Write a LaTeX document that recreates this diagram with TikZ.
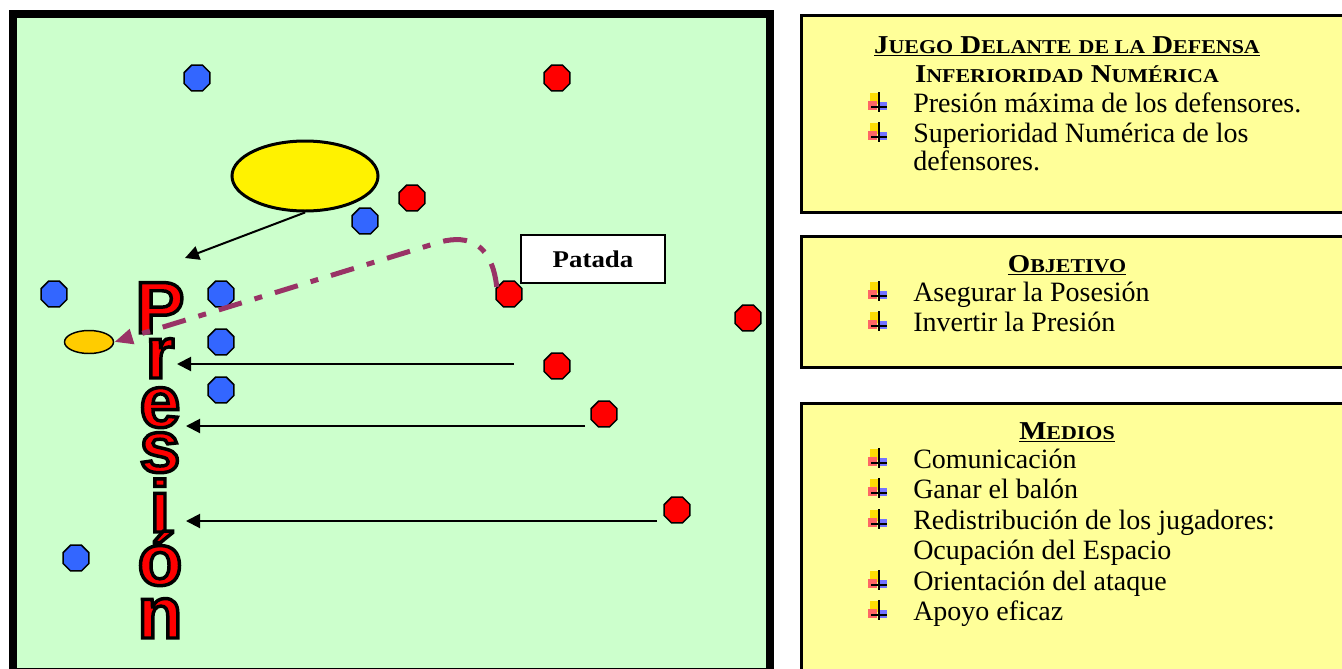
\documentclass[tikz,border=0pt]{standalone}
\usepackage{fontspec}
\setmainfont{Liberation Serif}
\newfontfamily\headfont{Liberation Serif}[FakeStretch=1.12]
\newfontfamily\letterfont{Liberation Sans}
\usetikzlibrary{shapes.geometric,arrows.meta}

\definecolor{pitchgreen}{HTML}{CCFFCC}
\definecolor{notepad}{HTML}{FFFF99}
\definecolor{teamblue}{HTML}{3366FF}
\definecolor{kickplum}{HTML}{993366}
\definecolor{ballorange}{HTML}{FFCC00}

% small caps by hand
\newcommand{\smcap}[2]{#1{\fontsize{14.7}{17}\selectfont#2}}
% red letter with a black rim (fill and stroke text)
\newcommand{\rimmed}[1]{\special{pdf:literal direct 2 Tr 2.6 w 0 0 0 RG}#1\special{pdf:literal direct 0 Tr}}

\begin{document}
\begin{tikzpicture}[x=0.75pt,y=-0.75pt,
		field/.style={fill=pitchgreen,draw=black,line width=6pt},
		notebox/.style={fill=notepad,draw=black,line width=2.25pt},
		attacker/.style={regular polygon,regular polygon sides=8,minimum size=21pt,inner sep=0pt,fill=red,draw=black,line width=1.1pt},
		defender/.style={attacker,fill=teamblue},
		letter/.style={font=\letterfont\bfseries\fontsize{55}{55}\selectfont,text=red,inner sep=0pt,anchor=base},
		heading/.style={font=\headfont\bfseries\fontsize{19.3}{22}\selectfont,inner sep=0pt,anchor=base},
		item/.style={font=\fontsize{21}{25}\selectfont,inner sep=0pt,anchor=base west},
		pressline/.style={draw=black,line width=1.5pt,-{Triangle[length=10.5pt,width=10.5pt]}},
		kickline/.style={draw=kickplum,line width=3.75pt,dash pattern=on 18pt off 10pt on 6pt off 10pt,-{Triangle[length=14pt,width=11pt]}},
		pics/plusmark/.style={code={
			\fill[yellow!80!orange] (2,-19) rectangle (11,-8);
			\fill[red!60] (0,-11) rectangle (9,-2);
			\fill[blue!55] (10,-10) rectangle (19,-2);
			\draw[line width=1.5pt] (11,-20) -- (11,0);
			\draw[line width=1.5pt] (3,-5) -- (19,-5);
		}}]
		\useasboundingbox (0,0) rectangle (1342,668);

		% pitch and note boxes
		\draw[field] (12.5,14) rectangle (770,672);
		\draw[notebox] (801.5,15) rectangle (1350,212);
		\draw[notebox] (801.5,236) rectangle (1350,367);
		\draw[notebox] (801.5,403) rectangle (1350,680);

		% Presion down the left side
		\node[letter] (lP) at (160,333) {\rimmed{P}};
		\node[letter] (lr) at (160,378) {\rimmed{r}};
		\node[letter] (le) at (160,427) {\rimmed{e}};
		\node[letter] (ls) at (160,472) {\rimmed{s}};
		\node[letter] (li) at (160,532) {\rimmed{i}};
		\node[letter] (lo) at (160,585) {\rimmed{ó}};
		\node[letter] (ln) at (160,638) {\rimmed{n}};

		\node[ellipse,fill=yellow,draw=black,line width=2.25pt,minimum width=109.5pt,minimum height=52.5pt,inner sep=0pt] (zone) at (305,176) {};
		\node[ellipse,fill=ballorange,draw=black,line width=1.1pt,minimum width=36.75pt,minimum height=17.25pt,inner sep=0pt] (ball) at (89,342) {};
		\node[draw=black,fill=white,line width=1.5pt,minimum width=108pt,minimum height=36pt,inner sep=0pt,font=\headfont\bfseries\fontsize{18}{20}\selectfont] (patada) at (593,259) {Patada};

		% pressing arrows
		\coordinate (aimP) at (185,258);
		\coordinate (from1) at (514,364);
		\coordinate (to1) at (177,364);
		\coordinate (from2) at (585,426);
		\coordinate (to2) at (186,426);
		\coordinate (from3) at (657,521);
		\coordinate (to3) at (186,521);
		\draw[pressline] (zone.south) -- (aimP);
		\draw[pressline] (from1) -- (to1);
		\draw[pressline] (from2) -- (to2);
		\draw[pressline] (from3) -- (to3);

		% players
		\node[defender] (d1) at (197,78) {};
		\node[defender] (d2) at (365,221) {};
		\node[defender] (d3) at (54,294) {};
		\node[defender] (d4) at (221,294) {};
		\node[defender] (d5) at (221,342) {};
		\node[defender] (d6) at (221,390) {};
		\node[defender] (d7) at (76,558) {};
		\node[attacker] (a1) at (557,78) {};
		\node[attacker] (a2) at (412,198) {};
		\node[attacker] (a3) at (509,294) {};
		\node[attacker] (a4) at (748,318) {};
		\node[attacker] (a5) at (557,366) {};
		\node[attacker] (a6) at (604,414) {};
		\node[attacker] (a7) at (677,510) {};

		% the kick
		\draw[kickline] (a3.150) .. controls (492,245) and (470,234) .. (440,242) -- (ball.east);

		% box 1
		\node[heading] (h1) at (1067,53) {\underline{\smcap{J}{UEGO} \smcap{D}{ELANTE} \smcap{}{DE LA} \smcap{D}{EFENSA}}};
		\node[heading] (h1b) at (1067,82) {\smcap{I}{NFERIORIDAD} \smcap{N}{UMÉRICA}};
		\pic at (868,112) {plusmark};
		\node[item] (b11) at (913,112) {Presión máxima de los defensores.};
		\pic at (868,142) {plusmark};
		\node[item] (b12) at (913,142) {Superioridad Numérica de los};
		\node[item] (b12b) at (913,170) {defensores.};

		% box 2
		\node[heading] (h2) at (1067,272) {\underline{\smcap{O}{BJETIVO}}};
		\pic at (868,301) {plusmark};
		\node[item] (b21) at (913,301) {Asegurar la Posesión};
		\pic at (868,331) {plusmark};
		\node[item] (b22) at (913,331) {Invertir la Presión};

		% box 3
		\node[heading] (h3) at (1067,439) {\underline{\smcap{M}{EDIOS}}};
		\pic at (868,468) {plusmark};
		\node[item] (b31) at (913,468) {Comunicación};
		\pic at (868,498) {plusmark};
		\node[item] (b32) at (913,498) {Ganar el balón};
		\pic at (868,529) {plusmark};
		\node[item] (b33) at (913,529) {Redistribución de los jugadores:};
		\node[item] (b33b) at (913,559) {Ocupación del Espacio};
		\pic at (868,590) {plusmark};
		\node[item] (b34) at (913,590) {Orientación del ataque};
		\pic at (868,620) {plusmark};
		\node[item] (b35) at (913,620) {Apoyo eficaz};
	\end{tikzpicture}
\end{document}
